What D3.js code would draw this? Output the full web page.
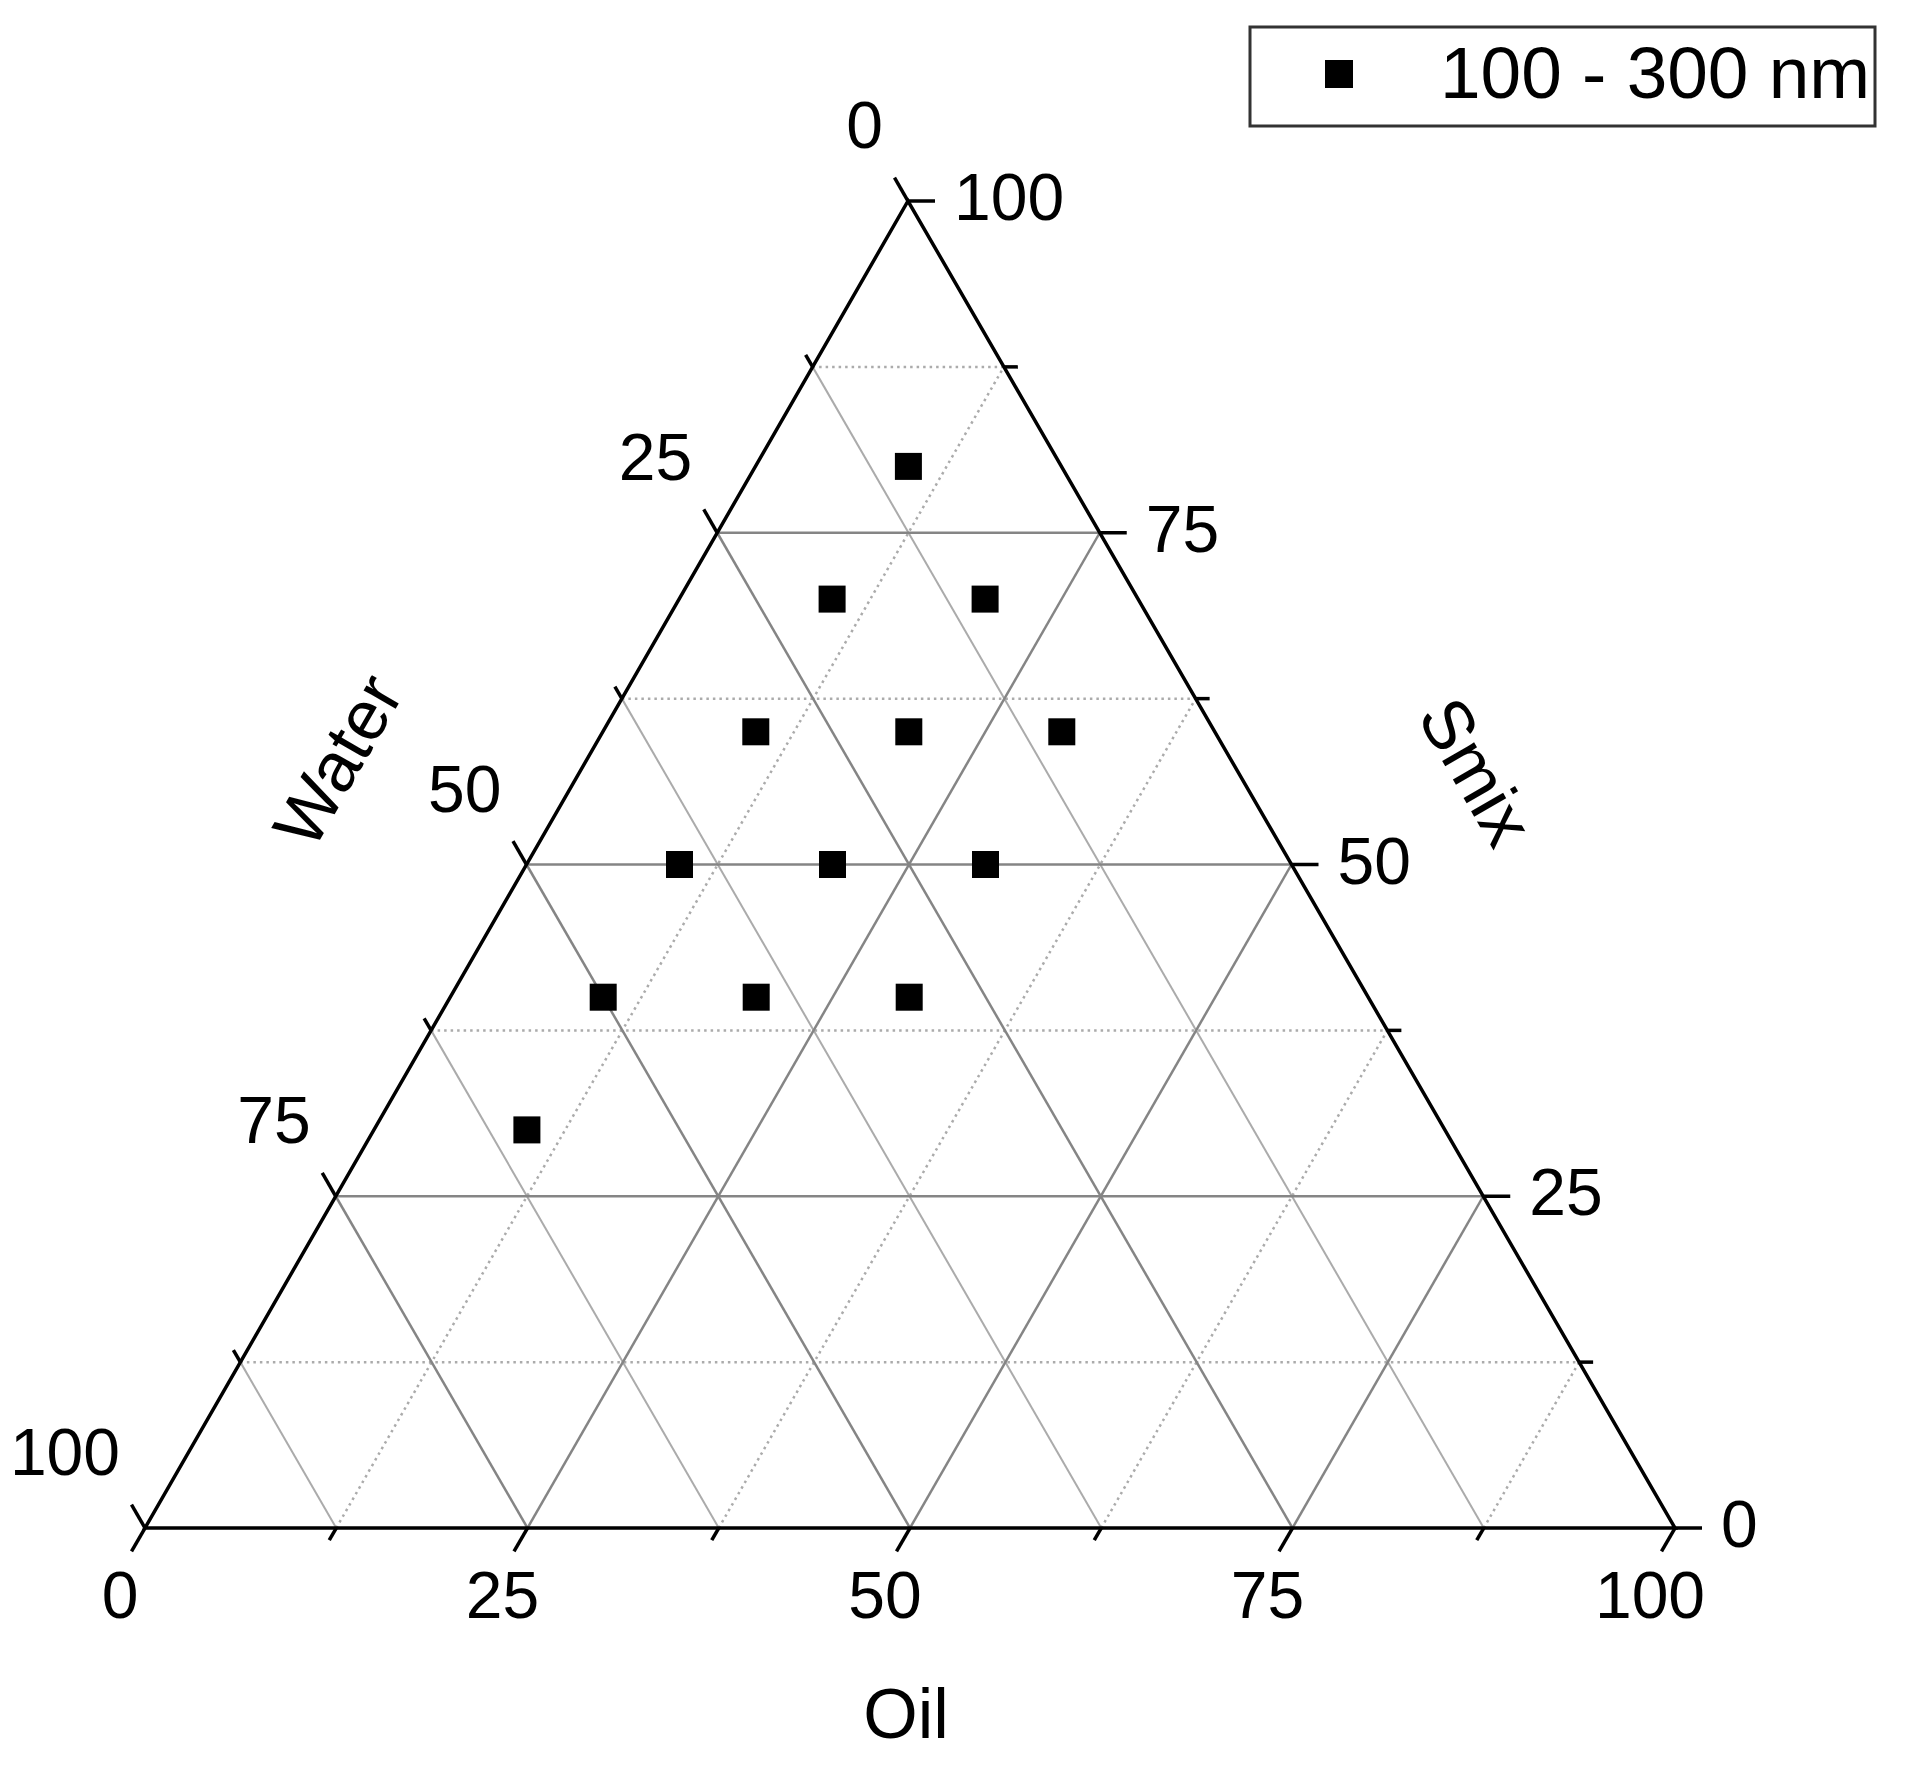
<!DOCTYPE html>
<html lang="en">
<head>
  <meta charset="UTF-8">
  <title>Ternary plot - Oil / Water / Smix</title>
  <style>
  body { margin: 0; background: #fff; }
  svg { display: block; font-family: "Liberation Sans", Arial, sans-serif; }
  .axis-line { stroke: #000; stroke-width: 3.5px; fill: none; stroke-linejoin: miter; }
  .tick { stroke: #000; stroke-width: 3.5px; }
  .grid-major { stroke: #858585; stroke-width: 2.5px; }
  .grid-minor { stroke: #ababab; stroke-width: 2px; }
  .grid-dot { stroke: #ababab; stroke-width: 2.5px; stroke-dasharray: 2.5,4; }
  .tick-label { font-size: 66px; fill: #000; }
  .title { font-size: 70px; fill: #000; }
  </style>
</head>
<body>
  <svg></svg>
  <script src="https://d3js.org/d3.v7.min.js"></script>
  <script>
  // composition of each measured formulation (%)
  var oil   = [10, 10, 20, 10, 20, 30, 10, 20, 30, 10, 20, 30, 10];
  var water = [10, 20, 10, 30, 20, 10, 40, 30, 20, 50, 40, 30, 60];
  var smix  = [80, 70, 70, 60, 60, 60, 50, 50, 50, 40, 40, 40, 30];

  var majorTicks = [0, 25, 50, 75, 100];
  var minorTicks = [12.5, 37.5, 62.5, 87.5];
  var gridMajor = [25, 50, 75];
  var legendLabel = '100 - 300 nm';

  var width = 1905, height = 1769;
  var svg = d3.select('svg').attr('width', width).attr('height', height);

  // triangle corners: Water=100 bottom-left, Oil=100 bottom-right, Smix=100 top
  var cornerW = [145, 1528], cornerO = [1675, 1528], cornerS = [908, 201];

  var frac = d3.scaleLinear().domain([0, 100]).range([0, 1]);

  function pt(o, w, s) {
    var a = frac(o), b = frac(w), c = frac(s);
    return [cornerW[0] * b + cornerO[0] * a + cornerS[0] * c,
            cornerW[1] * b + cornerO[1] * a + cornerS[1] * c];
  }

  var line = d3.line();

  // grid
  var grid = svg.append('g');
  function gridLines(values, cls) {
    values.forEach(function (v) {
      // constant Smix (horizontal)
      grid.append('path').attr('class', cls.s)
        .attr('d', line([pt(0, 100 - v, v), pt(100 - v, 0, v)]));
      // constant Oil (parallel to left edge)
      grid.append('path').attr('class', cls.o)
        .attr('d', line([pt(v, 100 - v, 0), pt(v, 0, 100 - v)]));
      // constant Water (parallel to right edge)
      grid.append('path').attr('class', cls.w)
        .attr('d', line([pt(100 - v, v, 0), pt(0, v, 100 - v)]));
    });
  }
  gridLines(minorTicks, { s: 'grid-dot', o: 'grid-dot', w: 'grid-minor' });
  gridLines(gridMajor, { s: 'grid-major', o: 'grid-major', w: 'grid-major' });

  // triangle outline
  svg.append('path').attr('class', 'axis-line')
    .attr('d', line([cornerW, cornerO, cornerS]) + 'Z');

  var sin60 = Math.sqrt(3) / 2;
  var axes = [
    { name: 'oil',   at: function (v) { return pt(v, 100 - v, 0); }, dir: [-0.5, sin60],
      anchor: 'middle', dx: -25, dy: 90 },
    { name: 'water', at: function (v) { return pt(0, v, 100 - v); }, dir: [-0.5, -sin60],
      anchor: 'end', dx: -25, dy: -53 },
    { name: 'smix',  at: function (v) { return pt(100 - v, 0, v); }, dir: [1, 0],
      anchor: 'start', dx: 46, dy: 19 }
  ];

  axes.forEach(function (ax) {
    var g = svg.append('g');
    majorTicks.forEach(function (v) {
      var p = ax.at(v);
      g.append('line').attr('class', 'tick')
        .attr('x1', p[0]).attr('y1', p[1])
        .attr('x2', p[0] + ax.dir[0] * 27).attr('y2', p[1] + ax.dir[1] * 27);
      g.append('text').attr('class', 'tick-label')
        .attr('x', p[0] + ax.dx).attr('y', p[1] + ax.dy)
        .attr('text-anchor', ax.anchor)
        .text(v);
    });
    minorTicks.forEach(function (v) {
      var p = ax.at(v);
      g.append('line').attr('class', 'tick')
        .attr('x1', p[0]).attr('y1', p[1])
        .attr('x2', p[0] + ax.dir[0] * 14).attr('y2', p[1] + ax.dir[1] * 14);
    });
  });

  // axis titles
  svg.append('text').attr('class', 'title')
    .attr('x', 906).attr('y', 1738).attr('text-anchor', 'middle').text('Oil');
  svg.append('text').attr('class', 'title')
    .attr('transform', 'translate(337,760) rotate(-60)')
    .attr('text-anchor', 'middle').attr('dy', '0.36em').text('Water');
  svg.append('text').attr('class', 'title')
    .attr('transform', 'translate(1477,771) rotate(60)')
    .attr('text-anchor', 'middle').attr('dy', '0.36em').text('Smix');

  // data points
  var pts = oil.map(function (o, i) { return pt(o, water[i], smix[i]); });
  var size = 27;
  svg.append('g').selectAll('rect')
    .data(pts)
    .enter()
    .append('rect')
    .attr('x', function (d) { return d[0] - size / 2; })
    .attr('y', function (d) { return d[1] - size / 2; })
    .attr('width', size).attr('height', size)
    .attr('fill', '#000');

  // legend
  var lg = svg.append('g');
  lg.append('rect').attr('x', 1250).attr('y', 27).attr('width', 625).attr('height', 99)
    .attr('fill', '#fff').attr('stroke', '#333').attr('stroke-width', 3);
  lg.append('rect').attr('x', 1325).attr('y', 60).attr('width', 28).attr('height', 28)
    .attr('fill', '#000');
  lg.append('text').attr('x', 1440).attr('y', 98)
    .style('font-size', '73px').text(legendLabel);
  </script>
</body>
</html>
